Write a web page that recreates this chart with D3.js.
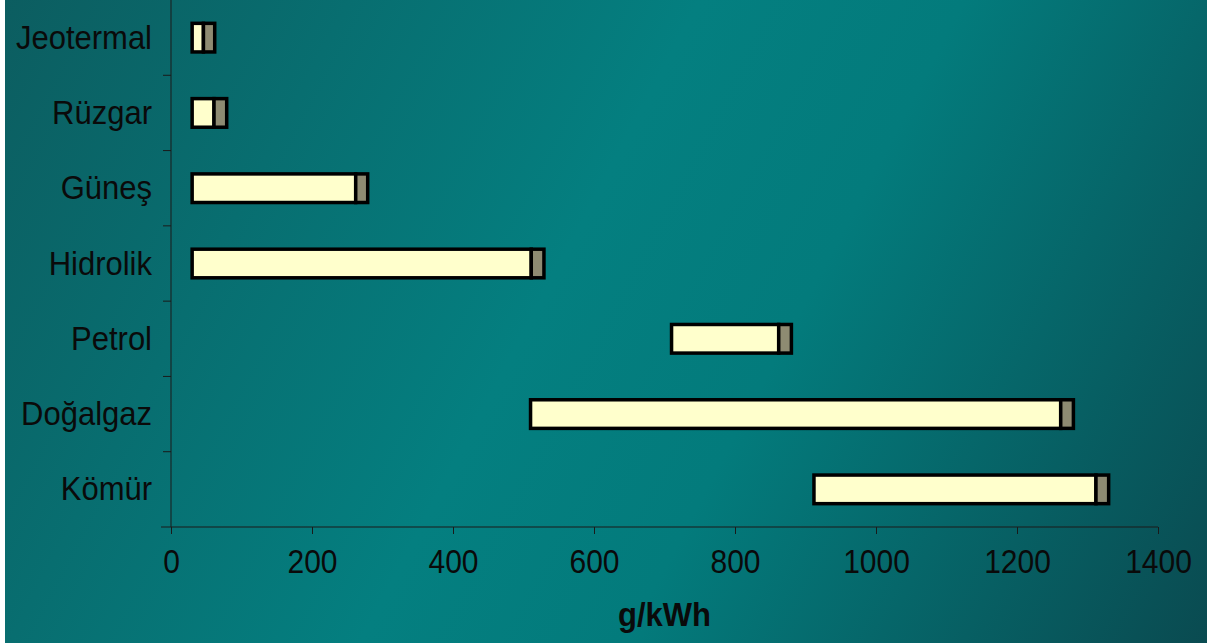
<!DOCTYPE html>
<html>
<head>
<meta charset="utf-8">
<script src="https://cdn.jsdelivr.net/npm/d3@7"></script>
<style>
  html, body { margin: 0; padding: 0; background: #ffffff; }
  svg { display: block; }
  text { font-family: "Liberation Sans", Arial, sans-serif; fill: #0a0a0a; }
</style>
</head>
<body>
<svg id="chart" width="1216" height="643"></svg>
<script>
// Life-cycle CO2 emissions per energy source (g/kWh)
const categories = ["Jeotermal", "Rüzgar", "Güneş", "Hidrolik", "Petrol", "Doğalgaz", "Kömür"];
const lowValues  = [30, 30, 30, 30, 710, 510, 912];     // start of range
const highValues = [46, 61, 262, 511, 862, 1262, 1312]; // end of main range
const topValues  = [62, 79, 279, 529, 880, 1280, 1330]; // end of upper band
const xTickValues = [0, 200, 400, 600, 800, 1000, 1200, 1400];
const xTitle = "g/kWh";

const W = 1216, H = 643;
const margin = { left: 171, right: W - 1158, top: 0, bottom: H - 527 };
const svg = d3.select("#chart");

// background
const defs = svg.append("defs");
const grad = defs.append("linearGradient")
  .attr("id", "bg").attr("gradientUnits", "userSpaceOnUse")
  .attr("x1", 0).attr("y1", 0).attr("x2", W).attr("y2", H);
grad.append("stop").attr("offset", 0).attr("stop-color", "#0c5d60");
grad.append("stop").attr("offset", 0.45).attr("stop-color", "#047f80");
grad.append("stop").attr("offset", 0.62).attr("stop-color", "#037b7c");
grad.append("stop").attr("offset", 1).attr("stop-color", "#0a4a50");
svg.append("rect").attr("x", 5).attr("y", 0).attr("width", 1202).attr("height", H)
  .attr("fill", "url(#bg)");

const x = d3.scaleLinear().domain([0, 1400]).range([margin.left, W - margin.right]);
const y = d3.scaleBand().domain(categories).range([margin.top, H - margin.bottom]);

const S = 1.08; // vertical stretch of the lettering
const axisColor = "#1a1a1a";

// x axis
const gx = svg.append("g").attr("transform", `translate(0,${H - margin.bottom})`)
  .call(d3.axisBottom(x).tickValues(xTickValues).tickSize(7).tickSizeOuter(0).tickFormat(d3.format("d")));
gx.select(".domain").attr("stroke", axisColor);
gx.selectAll(".tick line").attr("stroke", axisColor);
gx.selectAll(".tick text")
  .attr("font-size", 30).attr("font-family", null).attr("fill", "#0a0a0a")
  .attr("y", 23 / S).attr("dy", "0.71em")
  .attr("transform", `scale(1,${S})`);
gx.select(".domain").attr("d", `M${margin.left - 10},0H${W - margin.right}`);

// y axis: labels at band centres, ticks at band boundaries
const gy = svg.append("g").attr("transform", `translate(${margin.left},0)`)
  .call(d3.axisLeft(y).tickSize(0).tickPadding(0));
gy.select(".domain").attr("stroke", axisColor).attr("d", `M0,${margin.top}V${H - margin.bottom}`);
gy.selectAll(".tick text")
  .attr("font-size", 31).attr("font-family", null).attr("fill", "#0a0a0a")
  .attr("x", -19).attr("dy", null).attr("y", 11 / S)
  .attr("transform", `scale(1,${S})`);
gy.selectAll(".boundary")
  .data(categories.slice(1))
  .join("line")
  .attr("class", "boundary")
  .attr("x1", -8).attr("x2", 0)
  .attr("y1", d => y(d)).attr("y2", d => y(d))
  .attr("stroke", axisColor);

// bars
const barH = y.bandwidth() * 0.38;
const bars = svg.append("g").selectAll("g").data(categories).join("g")
  .attr("transform", (d, i) => `translate(0,${y(d) + (y.bandwidth() - barH) / 2})`);
bars.append("rect")
  .attr("x", (d, i) => x(lowValues[i]))
  .attr("width", (d, i) => x(highValues[i]) - x(lowValues[i]))
  .attr("height", barH)
  .attr("fill", "#ffffcc").attr("stroke", "#000").attr("stroke-width", 3.5);
bars.append("rect")
  .attr("x", (d, i) => x(highValues[i]))
  .attr("width", (d, i) => x(topValues[i]) - x(highValues[i]))
  .attr("height", barH)
  .attr("fill", "#8e8b72").attr("stroke", "#000").attr("stroke-width", 3.5);

// axis title
svg.append("g").attr("transform", `translate(${(x(0) + x(1400)) / 2},626)`)
  .append("text")
  .attr("text-anchor", "middle")
  .attr("font-size", 31).attr("font-weight", "bold")
  .attr("transform", `scale(1,${S})`)
  .text(xTitle);
</script>
</body>
</html>
